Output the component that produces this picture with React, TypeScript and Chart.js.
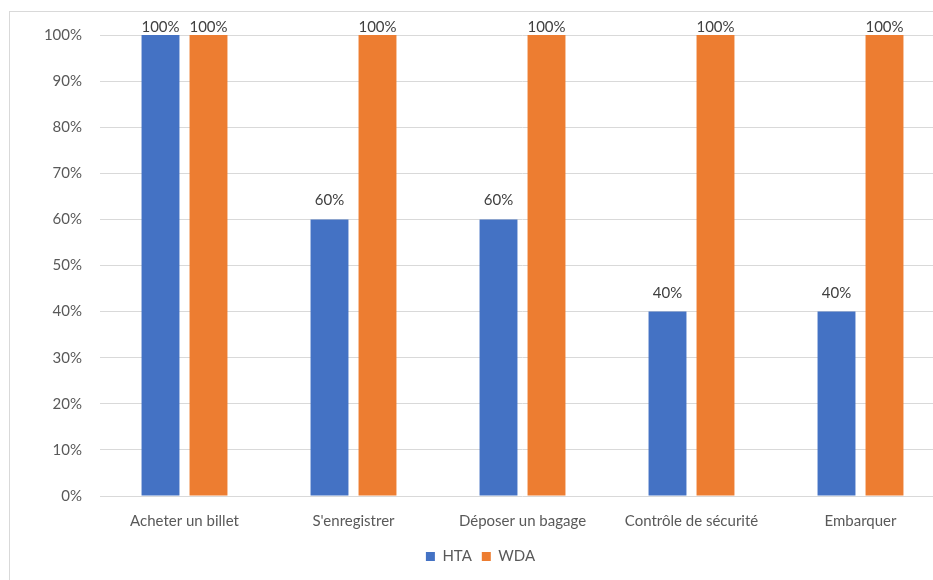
import React, { useEffect, useRef } from "react";
import { Chart, registerables } from "chart.js";

Chart.register(...registerables);

const categories = ["Acheter un billet", "S'enregistrer", "Déposer un bagage", "Contrôle de sécurité", "Embarquer"];
const htaValues = [100, 60, 60, 40, 40];
const wdaValues = [100, 100, 100, 100, 100];
const seriesNames = ["HTA", "WDA"];
const yTickMax = 100;
const yTickStep = 10;

const FONT = "Lato, 'Open Sans', sans-serif";

const dataLabelPlugin = {
  id: "dataLabels",
  afterDatasetsDraw(chart: any) {
    const ctx = chart.ctx;
    const top = chart.chartArea.top;
    ctx.save();
    ctx.font = `15px ${FONT}`;
    ctx.fillStyle = "#404040";
    ctx.textAlign = "center";
    ctx.textBaseline = "alphabetic";
    chart.data.datasets.forEach((ds: any, di: number) => {
      const meta = chart.getDatasetMeta(di);
      meta.data.forEach((el: any, i: number) => {
        const y = Math.max(el.y - 14, top - 3);
        ctx.fillText(`${ds.data[i]}%`, el.x, y);
      });
    });
    ctx.restore();
  },
};

export default function App() {
  const ref = useRef<HTMLCanvasElement>(null);
  useEffect(() => {
    document.body.style.margin = "0";
    document.body.style.overflow = "hidden";
    const chart = new Chart(ref.current!, {
      type: "bar",
      data: {
        labels: categories,
        datasets: [
          { label: seriesNames[0], data: htaValues, backgroundColor: "#4472C4", categoryPercentage: 0.568, barPercentage: 0.79 },
          { label: seriesNames[1], data: wdaValues, backgroundColor: "#ED7D31", categoryPercentage: 0.568, barPercentage: 0.79 },
        ],
      },
      options: {
        animation: false,
        responsive: false,
        maintainAspectRatio: false,
        layout: { padding: { left: 16, right: 15, top: 35, bottom: 6 } },
        plugins: {
          tooltip: { enabled: false },
          legend: {
            position: "bottom",
            labels: {
              boxWidth: 9,
              boxHeight: 9,
              padding: 10,
              color: "#595959",
              font: { family: FONT, size: 15 },
            },
          },
        },
        scales: {
          x: {
            grid: { display: false, drawTicks: false },
            border: { display: false },
            ticks: { color: "#595959", font: { family: FONT, size: 15 }, padding: 16, maxRotation: 0, autoSkip: false },
            afterFit: (s: any) => { s.height = 43; },
          },
          y: {
            min: 0,
            max: yTickMax,
            grid: { color: "#D9D9D9", lineWidth: 1, drawTicks: false },
            border: { display: false },
            ticks: {
              stepSize: yTickStep,
              color: "#595959",
              font: { family: FONT, size: 15 },
              padding: 18,
              callback: (v: any) => `${v}%`,
            },
            afterFit: (s: any) => { s.width = 84; },
          },
        },
      },
      plugins: [dataLabelPlugin],
    });
    return () => chart.destroy();
  }, []);
  return (
    <div style={{ position: "fixed", left: 0, top: 0, width: 933, height: 580, overflow: "hidden", background: "#fff" }}>
      <div style={{ position: "absolute", left: 9, top: 11, width: 1000, height: 700, border: "1px solid #D9D9D9" }} />
      <canvas ref={ref} width={960} height={580} style={{ position: "absolute", left: 0, top: 0, width: 960, height: 580 }} />
    </div>
  );
}
